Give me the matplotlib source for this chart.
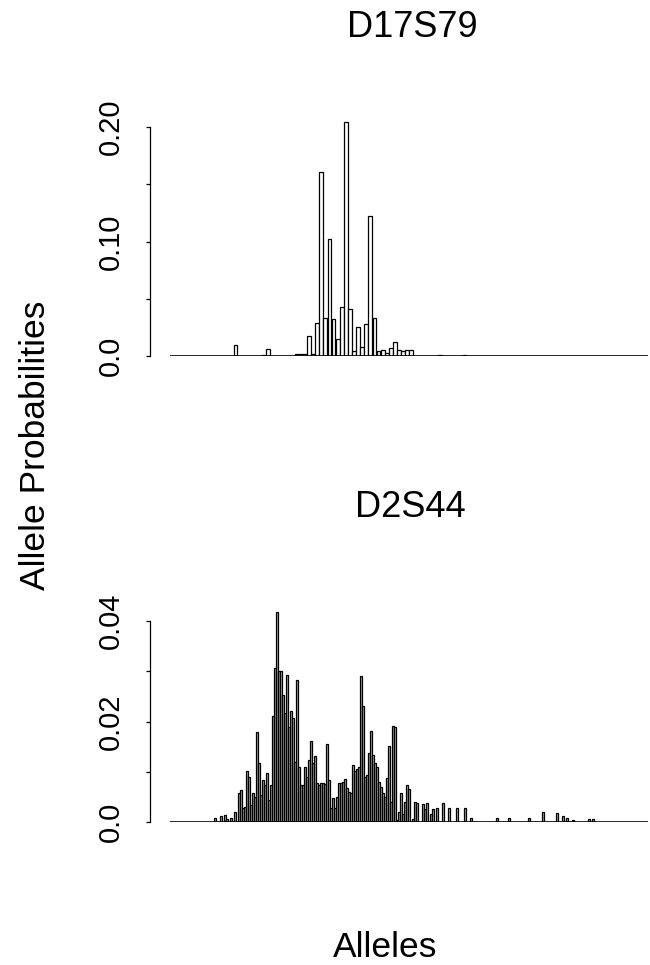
import matplotlib
matplotlib.use("Agg")
import matplotlib.pyplot as plt

plt.rcParams['font.family'] = ['Liberation Sans', 'DejaVu Sans']

# D17S79 allele bins and probabilities
d17_alleles = [16, 23, 24, 31, 32, 33, 34, 35, 36, 37, 38, 39, 40, 41, 42, 43, 44,
               45, 46, 47, 48, 49, 50, 51, 52, 53, 54, 55, 56, 57, 58, 59, 66, 72]
d17_probs = [0.0099, 0.001, 0.0064, 0.0015, 0.0015, 0.0015, 0.0178, 0.0015, 0.0285,
             0.161, 0.0335, 0.102, 0.032, 0.0146, 0.0428, 0.204, 0.0414, 0.0047,
             0.0256, 0.0076, 0.028, 0.1226, 0.0335, 0.0044, 0.0055, 0.003, 0.0067,
             0.0125, 0.005, 0.004, 0.0052, 0.0052, 0.0012, 0.001]

# D2S44 allele bins and probabilities
d2_alleles = [22, 25, 27, 28, 30, 32, 34, 35, 36, 37, 38, 39, 40, 41, 42, 43, 44, 45,
              46, 47, 48, 49, 50, 51, 52, 53, 54, 55, 56, 57, 58, 59, 60, 61, 62, 63,
              64, 65, 66, 67, 68, 69, 70, 71, 72, 73, 74, 75, 76, 77, 78, 79, 80, 81,
              82, 83, 84, 85, 86, 87, 88, 89, 90, 91, 92, 93, 94, 95, 96, 97, 98, 99,
              100, 101, 102, 103, 104, 105, 106, 107, 108, 109, 110, 111, 112, 113,
              114, 115, 116, 117, 118, 119, 121, 122, 123, 126, 127, 128, 130, 131,
              133, 136, 139, 143, 147, 150, 163, 169, 179, 186, 193, 196, 198, 201,
              209, 211]
d2_probs = [0.0007, 0.0011, 0.0013, 0.0005, 0.0007, 0.002, 0.0057, 0.0063, 0.0027,
            0.003, 0.0102, 0.0089, 0.0033, 0.0057, 0.005, 0.0179, 0.0117, 0.0053,
            0.0083, 0.0073, 0.0097, 0.0043, 0.0073, 0.0211, 0.0307, 0.0418, 0.030,
            0.030, 0.0253, 0.0217, 0.0293, 0.019, 0.022, 0.0207, 0.012, 0.0282,
            0.011, 0.0073, 0.0073, 0.011, 0.009, 0.0123, 0.0162, 0.0117, 0.0132,
            0.0077, 0.0073, 0.0078, 0.0077, 0.0075, 0.0155, 0.0083, 0.0027, 0.0047,
            0.0027, 0.005, 0.0078, 0.0077, 0.008, 0.0085, 0.0067, 0.006, 0.0057,
            0.0114, 0.0102, 0.0105, 0.011, 0.029, 0.0231, 0.009, 0.0093, 0.0137,
            0.0182, 0.0133, 0.0117, 0.011, 0.008, 0.007, 0.0057, 0.005, 0.0087,
            0.0151, 0.004, 0.0192, 0.0189, 0.0003, 0.002, 0.0057, 0.0015, 0.004,
            0.0073, 0.0065, 0.0005, 0.004, 0.0038, 0.0035, 0.0025, 0.0037, 0.0015,
            0.0025, 0.0027, 0.0037, 0.0027, 0.0027, 0.0027, 0.0007, 0.0007, 0.0007,
            0.0007, 0.0019, 0.0017, 0.0012, 0.0007, 0.0004, 0.0005, 0.0005]

d17_ticks = [0, 0.05, 0.10, 0.15, 0.20]
d17_labels = ['0.0', '', '0.10', '', '0.20']
d2_ticks = [0, 0.01, 0.02, 0.03, 0.04]
d2_labels = ['0.0', '', '0.02', '', '0.04']

W, H = 650, 965
fig = plt.figure(figsize=(6.5, 9.65), dpi=100)


def px_axes(left, right, top, bottom):
    return fig.add_axes([left / W, 1 - bottom / H, (right - left) / W, (bottom - top) / H])


def style(ax, ticks, labels):
    for s in ['top', 'right', 'bottom']:
        ax.spines[s].set_visible(False)
    ax.spines['left'].set_position(('outward', 14.4))
    ax.spines['left'].set_bounds(ticks[0], ticks[-1])
    ax.spines['left'].set_linewidth(0.9)
    ax.set_xticks([])
    ax.set_yticks(ticks)
    ax.set_yticklabels(labels)
    ax.tick_params(axis='y', length=3, width=0.9, pad=15, labelsize=21, labelrotation=90)
    for lab in ax.get_yticklabels():
        lab.set_va('center')
    ax.axhline(0, color='black', lw=1.2)


# top panel: D17S79
ax1 = px_axes(170, 648, 356 - 0.21 * 1145, 356)
ax1.bar(d17_alleles, d17_probs, width=0.92, color='white', edgecolor='black', linewidth=0.9)
ax1.set_xlim(0, 116.9)
ax1.set_ylim(0, 0.21)
style(ax1, d17_ticks, d17_labels)

# bottom panel: D2S44 (dense bars read as dark grey in the scan)
ax2 = px_axes(170, 648, 822 - 0.0425 * 5025, 822)
ax2.bar(d2_alleles, d2_probs, width=0.9, color='#a8a8a8', edgecolor='black', linewidth=0.9)
ax2.set_xlim(-0.5, 238.5)
ax2.set_ylim(0, 0.0425)
style(ax2, d2_ticks, d2_labels)

fig.text(412 / W, 1 - 37 / H, 'D17S79', ha='center', va='baseline', fontsize=26)
fig.text(410 / W, 1 - 517 / H, 'D2S44', ha='center', va='baseline', fontsize=26)
fig.text(36 / W, 1 - 445 / H, 'Allele Probabilities', rotation=90, ha='center', va='center', fontsize=25.5)
fig.text(385 / W, 1 - 957 / H, 'Alleles', ha='center', va='baseline', fontsize=25.5)

fig.savefig('out.png', dpi=100)
